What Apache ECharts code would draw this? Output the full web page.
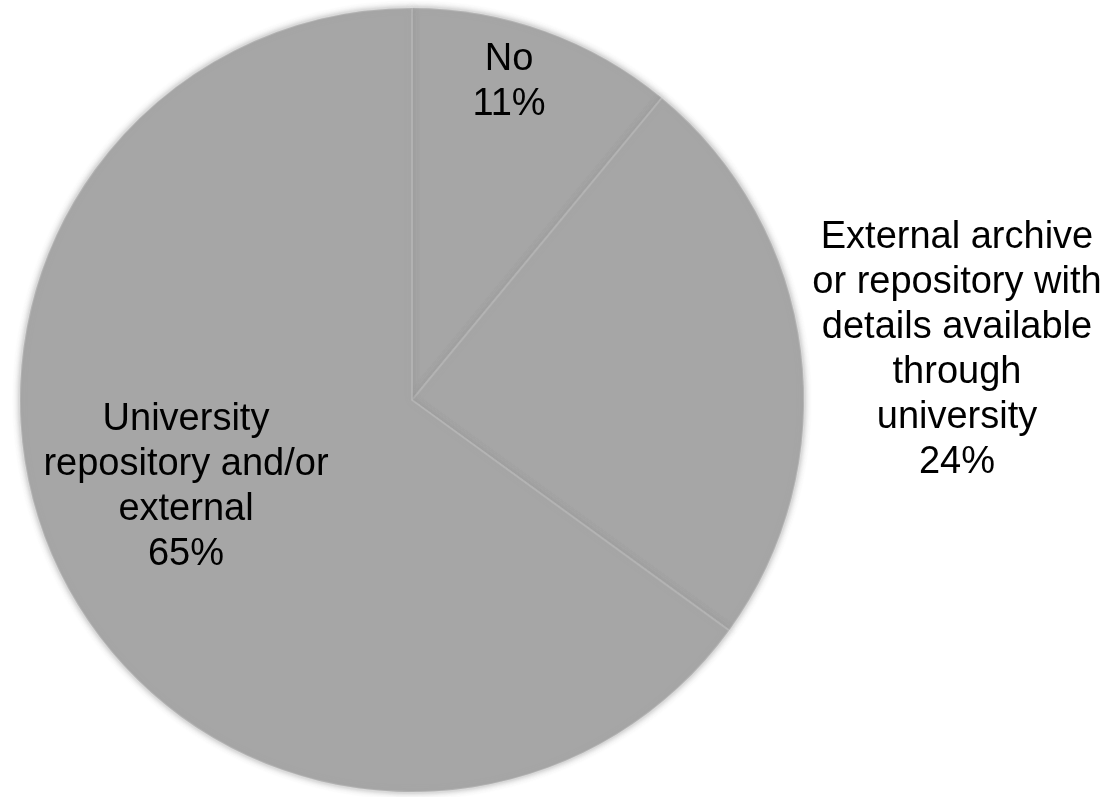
<!DOCTYPE html>
<html>
<head>
<meta charset="utf-8">
<script src="https://cdn.jsdelivr.net/npm/echarts@6/dist/echarts.min.js"></script>
<style>
html,body{margin:0;padding:0;background:#fff;}
#chart{width:1115px;height:797px;}
</style>
</head>
<body>
<div id="chart"></div>
<script>
const categories = [
  'No',
  'External archive\nor repository with\ndetails available\nthrough\nuniversity',
  'University\nrepository and/or\nexternal'
];
const values = [11, 24, 65];

// label anchor positions (layout only)
const labelPos = [[509, 82], [957, 350], [186, 487]];

const chart = echarts.init(document.getElementById('chart'), null, {renderer: 'canvas'});
chart.setOption({
  backgroundColor: '#ffffff',
  animation: false,
  series: [{
    type: 'pie',
    center: [412, 400],
    radius: 392,
    startAngle: 90,
    clockwise: true,
    avoidLabelOverlap: false,
    data: categories.map((c, i) => ({name: c, value: values[i]})),
    itemStyle: {
      color: '#a6a6a6',
      borderColor: 'rgba(255,255,255,0.14)',
      borderWidth: 2,
      shadowBlur: 7,
      shadowColor: 'rgba(150,150,150,0.9)'
    },
    label: {
      show: true,
      position: 'inside',
      overflow: 'none',
      formatter: p => p.name + '\n' + p.value + '%',
      fontFamily: '"Liberation Sans", Arial, sans-serif',
      fontSize: 38,
      lineHeight: 45,
      color: '#000000',
      align: 'center'
    },
    labelLine: {show: false},
    labelLayout: function (params) {
      const p = labelPos[params.dataIndex];
      return {x: p[0], y: p[1], align: 'center', verticalAlign: 'middle', hideOverlap: false};
    },
    emphasis: {disabled: true}
  }]
});
</script>
</body>
</html>
